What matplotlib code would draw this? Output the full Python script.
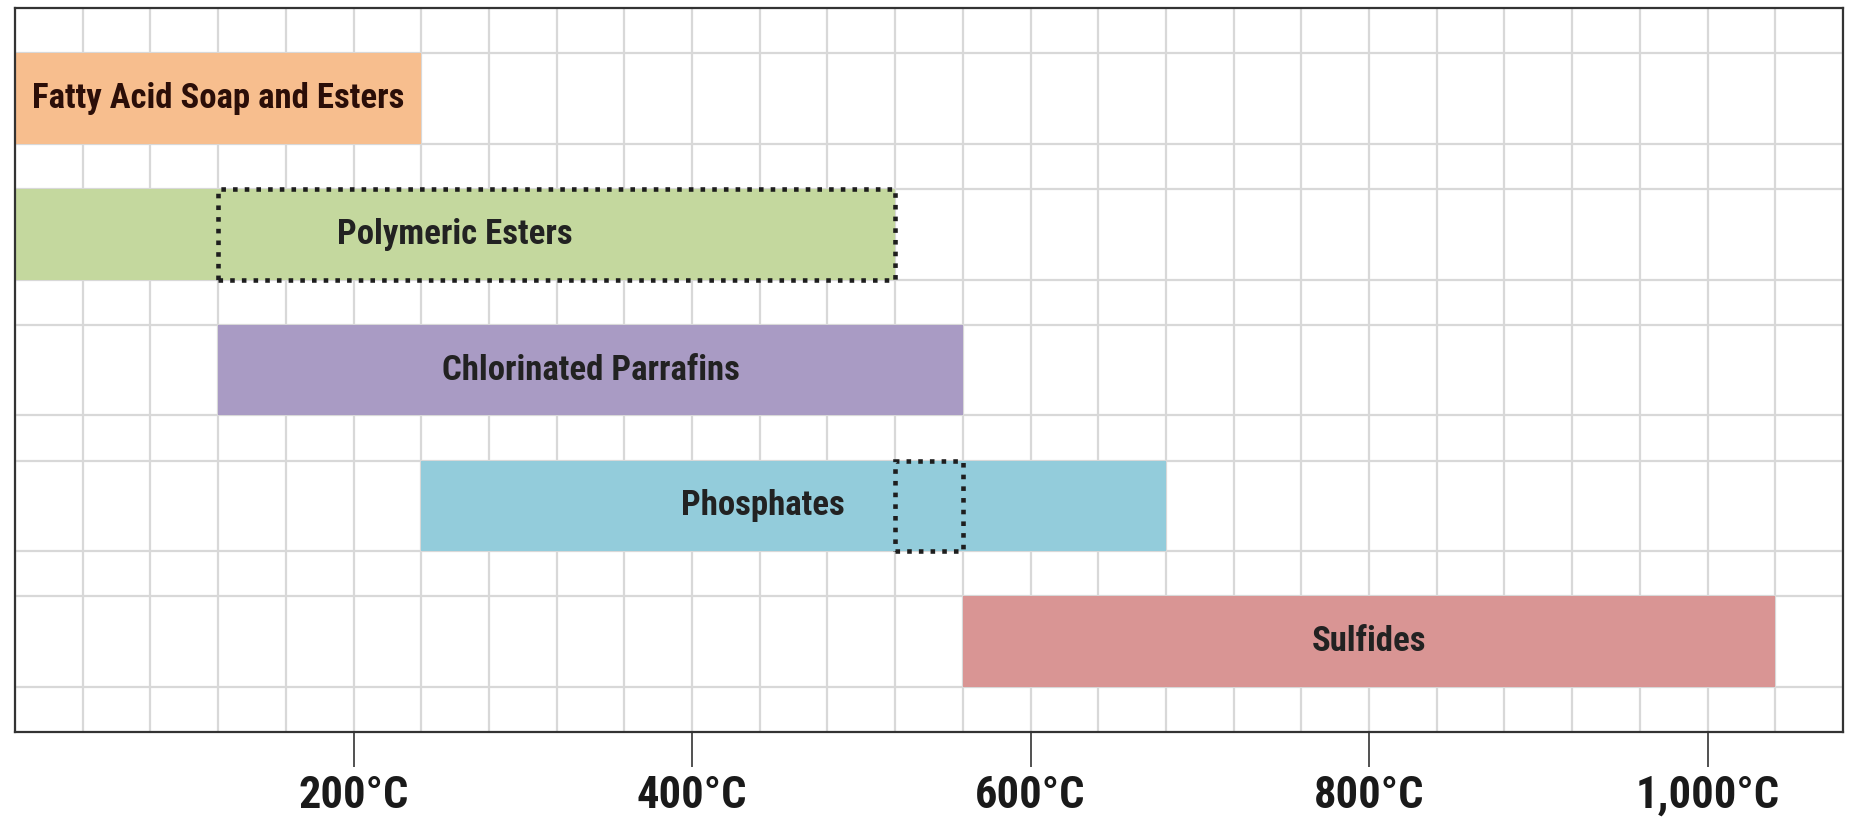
import matplotlib.pyplot as plt
from matplotlib.patches import Rectangle
from matplotlib.ticker import MultipleLocator
from matplotlib import font_manager

# data: temperature ranges (deg C) for each additive class
labels = ['Fatty Acid Soap and Esters', 'Polymeric Esters', 'Chlorinated Parrafins',
          'Phosphates', 'Sulfides']
starts = [0, 0, 120, 240, 560]
ends = [240, 520, 560, 680, 1040]
colors = ['#F7BE8E', '#C4D89E', '#A99BC4', '#93CCDB', '#D99594']
text_colors = ['#2B0E08', '#222222', '#222222', '#222222', '#222222']
label_x = [120, 260, 340, 442, 800]

# dotted boxes: (row index, start, end)
box_rows = [1, 3]
box_starts = [120, 520]
box_ends = [520, 560]

tick_vals = [200, 400, 600, 800, 1000]
tick_labels = ['200°C', '400°C', '600°C', '800°C', '1,000°C']

# pick a condensed face if one is installed
names = {f.name for f in font_manager.fontManager.ttflist}
fam = 'Liberation Sans'
for cand in ['Roboto Condensed', 'Liberation Sans Narrow', 'Open Sans Condensed']:
    if cand in names:
        fam = cand
        break
plt.rcParams['font.family'] = [fam, 'DejaVu Sans']

fig = plt.figure(figsize=(18.52, 8.18), dpi=100)
ax = fig.add_axes([0.0081, 0.1051, 0.987, 0.885])

n = len(labels)
bar_h = 2
period = 3
ymax = n * period + 1
bottoms = [ymax - 1 - bar_h - i * period for i in range(n)]

texts = []
for i in range(n):
    ax.barh(bottoms[i], ends[i] - starts[i], left=starts[i], height=bar_h,
            align='edge', color=colors[i], zorder=2)
    t = ax.text(label_x[i], bottoms[i] + bar_h / 2, labels[i], ha='center', va='center',
                fontsize=26, fontweight='heavy', color=text_colors[i], zorder=4)
    texts.append(t)

for r, s, e in zip(box_rows, box_starts, box_ends):
    ax.add_patch(Rectangle((s, bottoms[r]), e - s, bar_h, fill=False,
                           edgecolor='#1e1e1e', linewidth=3.3,
                           linestyle=(0, (1, 1.55)), zorder=3))

ax.set_xlim(0, 1080)
ax.set_ylim(0, ymax)

ax.set_xticks(tick_vals)
ax.set_xticklabels(tick_labels, fontsize=32, fontweight='heavy', color='#1a1a1a')
ax.xaxis.set_minor_locator(MultipleLocator(40))
edges = sorted([b for b in bottoms] + [b + bar_h for b in bottoms])
ax.set_yticks(edges)
ax.set_yticklabels([])
ax.tick_params(axis='y', length=0)
ax.tick_params(axis='x', which='major', length=25, width=1.2, color='#333333', pad=6)
ax.tick_params(axis='x', which='minor', length=0)

ax.grid(True, which='both', color='#D8D8D8', linewidth=1.6, zorder=0)
ax.set_axisbelow(True)
for sp in ax.spines.values():
    sp.set_color('#333333')
    sp.set_linewidth(1.6)

# shrink text so widths match the reference (373 px label, 112 px tick label)
fig.canvas.draw()
r = fig.canvas.get_renderer()
w = texts[0].get_window_extent(r).width
k = min(1.0, 373 / w)
for t in texts:
    t.set_fontsize(26 * k)
tl = ax.get_xticklabels()[0]
w2 = tl.get_window_extent(r).width
k2 = min(1.0, 112 / w2)
for t in ax.get_xticklabels():
    t.set_fontsize(32 * k2)

plt.savefig('out.png', dpi=100)
